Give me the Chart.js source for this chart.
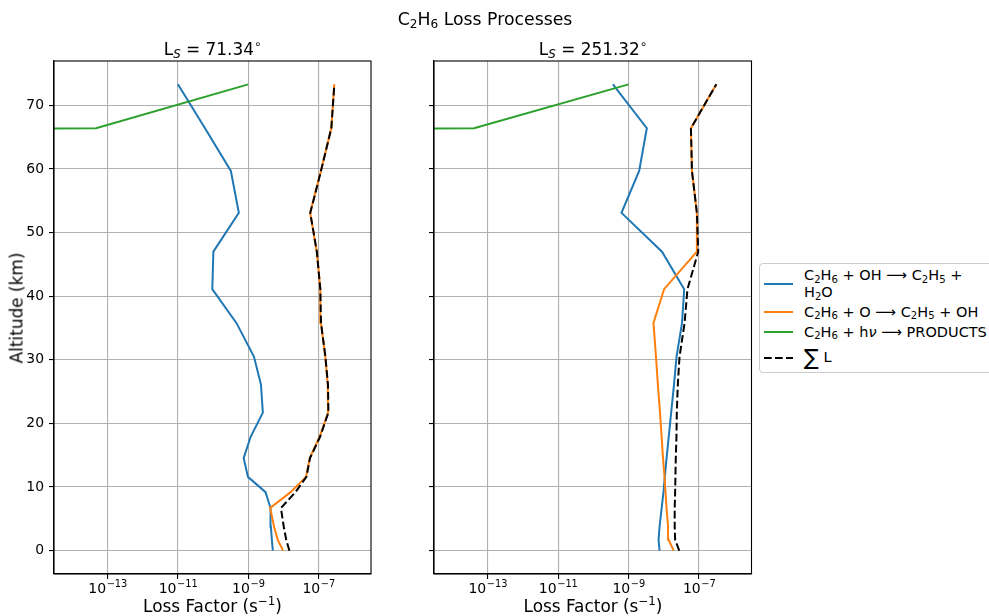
<!DOCTYPE html>
<html>
<head>
<meta charset="utf-8">
<script src="https://cdn.jsdelivr.net/npm/chart.js@4.4.1/dist/chart.umd.min.js"></script>
<style>
  html, body { margin: 0; padding: 0; background: #fff; }
  #fig { position: relative; width: 989px; height: 616px; overflow: hidden;
         font-family: "DejaVu Sans", sans-serif; color: #000; }
  #fig canvas { position: absolute; left: 0; top: 0; pointer-events: none; }
  .txt { position: absolute; white-space: nowrap; transform: translate(-50%, -50%); line-height: 1; }
  .lab { position: absolute; white-space: nowrap; line-height: 1; font-size: 14.5px; transform: translateY(-50%); }
  sub { font-size: 70%; vertical-align: -0.25em; line-height: 0; }
  sup { font-size: 70%; vertical-align: 0.55em; line-height: 0; }
  #legend { position: absolute; left: 759px; top: 263px; width: 250px; height: 108px;
            border: 1px solid #cccccc; border-radius: 4px; background: #fff; }
  .swatch { position: absolute; }
</style>
</head>
<body>
<div id="fig">
  <canvas id="left" width="989" height="616"></canvas>
  <canvas id="right" width="989" height="616"></canvas>
</div>
<script>
// Altitude levels of the model grid (km), bottom to top
const ALTITUDE_KM = [0, 1.7, 3.8, 6.7, 9.2, 11.6, 14.55, 17.9, 21.7, 26.1, 30.5, 35.8, 41.1, 47.0, 53.1, 59.7, 66.4, 73.3];

// Loss factors (s^-1) at Ls = 71.34°
const LS71_OH  = [5.0e-9, 4.7e-9, 4.4e-9, 4.3e-9, 3.1e-9, 9.8e-10, 7.4e-10, 1.17e-9, 2.6e-9, 2.3e-9, 1.45e-9, 4.6e-10, 9.5e-11, 1.02e-10, 5.4e-10, 3.2e-10, 5.9e-11, 1.0e-11];
const LS71_O   = [9.8e-9, 6.9e-9, 5.4e-9, 4.2e-9, 1.6e-8, 4.4e-8, 5.6e-8, 1.07e-7, 1.86e-7, 1.82e-7, 1.55e-7, 1.17e-7, 1.12e-7, 8.9e-8, 5.75e-8, 1.17e-7, 2.3e-7, 2.8e-7];
const LS71_HV  = [0, 0, 0, 0, 0, 0, 0, 0, 0, 0, 0, 0, 0, 0, 0, 0, 4.7e-14, 1.0e-9];
const LS71_SUM = [1.48e-8, 1.2e-8, 1.02e-8, 8.5e-9, 2.2e-8, 4.5e-8, 5.7e-8, 1.1e-7, 1.9e-7, 1.85e-7, 1.56e-7, 1.17e-7, 1.12e-7, 8.9e-8, 5.8e-8, 1.17e-7, 2.3e-7, 2.8e-7];

// Loss factors (s^-1) at Ls = 251.32°
const LS251_OH  = [7.6e-9, 7.1e-9, 7.6e-9, 8.7e-9, 9.8e-9, 1.07e-8, 1.2e-8, 1.38e-8, 1.62e-8, 1.95e-8, 2.3e-8, 3.3e-8, 3.8e-8, 8.9e-9, 6.3e-10, 2.0e-9, 3.3e-9, 3.6e-10];
const LS251_O   = [1.9e-8, 1.38e-8, 1.32e-8, 1.2e-8, 1.12e-8, 1.05e-8, 9.5e-9, 8.7e-9, 7.8e-9, 6.8e-9, 6.0e-9, 5.1e-9, 1.02e-8, 8.7e-8, 8.7e-8, 6.3e-8, 5.9e-8, 3.1e-7];
const LS251_HV  = [0, 0, 0, 0, 0, 0, 0, 0, 0, 0, 0, 0, 0, 0, 0, 0, 4.1e-14, 1.0e-9];
const LS251_SUM = [2.75e-8, 2.1e-8, 2.04e-8, 2.04e-8, 2.1e-8, 2.14e-8, 2.19e-8, 2.29e-8, 2.34e-8, 2.5e-8, 2.8e-8, 3.9e-8, 4.7e-8, 9.5e-8, 8.7e-8, 6.3e-8, 5.9e-8, 3.1e-7];

// Axis ticks
const X_TICKS = [1e-13, 1e-11, 1e-9, 1e-7];
const Y_TICKS = [0, 10, 20, 30, 40, 50, 60, 70];

// Text
const FIG_TITLE = 'C<sub>2</sub>H<sub>6</sub> Loss Processes';
const PANEL_TITLES = ['L<sub><i>S</i></sub> = 71.34<sup>\u2218</sup>', 'L<sub><i>S</i></sub> = 251.32<sup>\u2218</sup>'];
const X_LABEL = 'Loss Factor (s<sup>\u22121</sup>)';
const Y_LABEL = 'Altitude (km)';
const SERIES_LABELS = [
  'C<sub>2</sub>H<sub>6</sub> + OH \u27F6 C<sub>2</sub>H<sub>5</sub> +<br>H<sub>2</sub>O',
  'C<sub>2</sub>H<sub>6</sub> + O \u27F6 C<sub>2</sub>H<sub>5</sub> + OH',
  'C<sub>2</sub>H<sub>6</sub> + h<i>\u03BD</i> \u27F6 PRODUCTS',
  '<span style="font-size:22px;vertical-align:-3px">\u2211</span> L'
];
const SERIES_COLORS = ['#1f77b4', '#ff7f0e', '#2ca02c', '#000000'];

// ---- layout ----
const W = 989, H = 616;
const X_MIN = Math.pow(10, -14.49), X_MAX = Math.pow(10, -5.51);
const Y_MIN = -3.67, Y_MAX = 76.97;
const AXW = 44, AXH = 30;
const PANELS = [
  { id: 'left',  l: 54,  r: 371,   t: 61, b: 574, cx: 212.5 },
  { id: 'right', l: 434, r: 751.5, t: 61, b: 574, cx: 593 }
];

// A log axis cannot place zero: clip it to a tiny positive value so the
// segment runs off the left edge, the way matplotlib clips non-positive data.
const LOG_CLIP = 1e-300;
const toPoints = vals => vals.map((v, i) => ({ x: v > 0 ? v : LOG_CLIP, y: ALTITUDE_KM[i] }));

Chart.defaults.font.family = '"DejaVu Sans", sans-serif';
Chart.defaults.font.size = 13.9;
Chart.defaults.color = '#000';

const frame = {
  id: 'frame',
  afterDraw(chart) {
    const { ctx, chartArea: a } = chart;
    ctx.save();
    ctx.strokeStyle = '#000';
    ctx.lineWidth = 1.1;
    ctx.strokeRect(a.left, a.top, a.right - a.left, a.bottom - a.top);
    ctx.restore();
  }
};

const powerLabels = {
  id: 'powerLabels',
  afterDraw(chart) {
    const { ctx, scales: { x }, chartArea: a } = chart;
    const baseY = a.bottom + 18.5;
    ctx.save();
    ctx.fillStyle = '#000';
    ctx.textBaseline = 'alphabetic';
    ctx.textAlign = 'left';
    for (const t of x.ticks) {
      const px = x.getPixelForValue(t.value);
      const p = Math.round(Math.log10(t.value));
      const b = '10', e = (p < 0 ? '\u2212' : '') + Math.abs(p);
      ctx.font = '14px "DejaVu Sans"';
      const wb = ctx.measureText(b).width;
      ctx.font = '9.8px "DejaVu Sans"';
      const we = ctx.measureText(e).width;
      const x0 = px - (wb + we) / 2;
      ctx.font = '14px "DejaVu Sans"';
      ctx.fillText(b, x0, baseY);
      ctx.font = '9.8px "DejaVu Sans"';
      ctx.fillText(e, x0 + wb + 0.5, baseY - 6);
    }
    ctx.restore();
  }
};

function makePanel(panel, seriesVals, showYLabels) {
  const order = [3, 2, 1, 0];
  const datasets = seriesVals.map((vals, k) => ({
    data: toPoints(vals),
    borderColor: SERIES_COLORS[k],
    borderWidth: 2,
    borderDash: k === 3 ? [7.7, 3.3] : [],
    pointRadius: 0,
    showLine: true,
    fill: false,
    tension: 0,
    clip: 0,
    order: order[k]
  }));
  return new Chart(document.getElementById(panel.id), {
    type: 'scatter',
    data: { datasets },
    options: {
      responsive: false,
      animation: false,
      devicePixelRatio: 1,
      events: [],
      layout: { padding: { left: panel.l - AXW, right: W - panel.r, top: panel.t, bottom: H - panel.b - AXH } },
      plugins: { legend: { display: false }, tooltip: { enabled: false } },
      scales: {
        x: {
          type: 'logarithmic', position: 'bottom', min: X_MIN, max: X_MAX,
          afterBuildTicks: s => { s.ticks = X_TICKS.map(v => ({ value: v })); },
          afterFit: s => { s.height = AXH; },
          ticks: { display: false },
          grid: { color: '#b0b0b0', lineWidth: 1.1, tickLength: 5, tickColor: '#000', tickWidth: 1.1 },
          border: { display: true, color: '#000', width: 1.1 }
        },
        y: {
          type: 'linear', position: 'left', min: Y_MIN, max: Y_MAX,
          afterBuildTicks: s => { s.ticks = Y_TICKS.map(v => ({ value: v })); },
          afterFit: s => { s.width = AXW; },
          ticks: { display: showYLabels, padding: 5, color: '#000', font: { size: 13.9 } },
          grid: { color: '#b0b0b0', lineWidth: 1.1, tickLength: 5, tickColor: '#000', tickWidth: 1.1 },
          border: { display: true, color: '#000', width: 1.1 }
        }
      }
    },
    plugins: [frame, powerLabels]
  });
}

makePanel(PANELS[0], [LS71_OH, LS71_O, LS71_HV, LS71_SUM], true);
makePanel(PANELS[1], [LS251_OH, LS251_O, LS251_HV, LS251_SUM], false);

// ---- text ----
const fig = document.getElementById('fig');
function addText(html, x, y, size, extra) {
  const d = document.createElement('div');
  d.className = 'txt';
  d.innerHTML = html;
  d.style.left = x + 'px';
  d.style.top = y + 'px';
  d.style.fontSize = size + 'px';
  if (extra) d.style.transform = extra;
  fig.appendChild(d);
  return d;
}
addText(FIG_TITLE, 485, 20, 17.3);
PANELS.forEach((p, i) => {
  addText(PANEL_TITLES[i], p.cx, 49, 16.9);
  addText(X_LABEL, p.cx, 606, 16.9);
});
addText(Y_LABEL, 17, 308, 16.9, 'translate(-50%, -50%) rotate(-90deg)');

// ---- legend ----
const legend = document.createElement('div');
legend.id = 'legend';
fig.appendChild(legend);
const ROW_Y = [284, 312, 332, 358];
SERIES_LABELS.forEach((html, k) => {
  const y = ROW_Y[k];
  const sw = document.createElementNS('http://www.w3.org/2000/svg', 'svg');
  sw.setAttribute('class', 'swatch');
  sw.setAttribute('width', '30');
  sw.setAttribute('height', '6');
  sw.style.left = '764px';
  sw.style.top = (y - 3) + 'px';
  const ln = document.createElementNS('http://www.w3.org/2000/svg', 'line');
  ln.setAttribute('x1', '0'); ln.setAttribute('x2', '29');
  ln.setAttribute('y1', '3'); ln.setAttribute('y2', '3');
  ln.setAttribute('stroke', SERIES_COLORS[k]);
  ln.setAttribute('stroke-width', '2');
  if (k === 3) ln.setAttribute('stroke-dasharray', '7.7 3.3');
  sw.appendChild(ln);
  fig.appendChild(sw);
  const t = document.createElement('div');
  t.className = 'lab';
  t.innerHTML = html;
  t.style.left = '804px';
  t.style.top = y + 'px';
  if (k === 0) { t.style.lineHeight = '17px'; t.style.top = (y - 0.5) + 'px'; }
  fig.appendChild(t);
});
</script>
</body>
</html>
